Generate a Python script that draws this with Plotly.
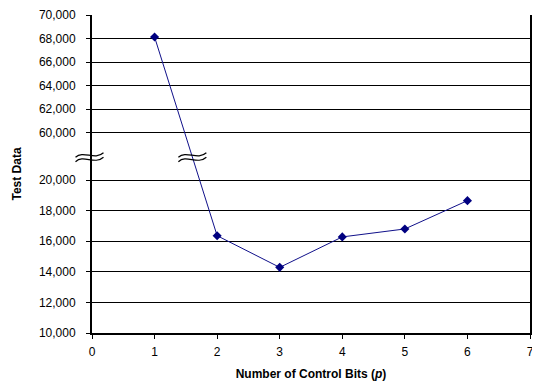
import plotly.graph_objects as go

# ---- data ----
control_bits = [1, 2, 3, 4, 5, 6]
test_data = [68130, 16360, 14290, 16280, 16800, 18650]

x_tick_values = [0, 1, 2, 3, 4, 5, 6, 7]
y_tick_values_lower = [10000, 12000, 14000, 16000, 18000, 20000]
y_tick_values_upper = [60000, 62000, 64000, 66000, 68000, 70000]

# ---- broken y-axis mapping (lower segment 10k-20k, upper segment 60k-70k) ----
LOWER_MIN = 10000
UPPER_MIN = 60000
UPPER_START = 13.092        # display position of the upper segment start
UPPER_SCALE = 0.7692        # display units per 1000 in the upper segment


def to_disp(v):
    if v <= 40000:
        return (v - LOWER_MIN) / 1000.0
    return UPPER_START + (v - UPPER_MIN) / 1000.0 * UPPER_SCALE


all_ticks = y_tick_values_lower + y_tick_values_upper
tick_disp = [to_disp(v) for v in all_ticks]
tick_text = [f"{v:,}" for v in all_ticks]

# page body has an 8px default margin; compensate in the plot margins
OFF = 8
W, H = 540, 383
ML, MR, MT, MB = 91.5 - OFF, 10 + OFF, 15 - OFF, 50 + OFF
PW, PH = W - ML - MR, H - MT - MB


def px(xs, ys):
    # convert on-screen pixel position to paper coords for decorations
    return (xs - OFF - ML) / PW, (H - MB - (ys - OFF)) / PH


def wave_path(cx, cy):
    parts = []
    for dy in (-2.2, 2.2):
        pts = [(cx - 14, cy + dy + 2.5), (cx - 6, cy + dy - 5),
               (cx + 5, cy + dy + 6), (cx + 14, cy + dy - 2)]
        p = [px(a, b) for a, b in pts]
        parts.append("M {:.5f},{:.5f} C {:.5f},{:.5f} {:.5f},{:.5f} {:.5f},{:.5f}".format(
            p[0][0], p[0][1], p[1][0], p[1][1], p[2][0], p[2][1], p[3][0], p[3][1]))
    return " ".join(parts)


fig = go.Figure()
fig.add_trace(go.Scatter(
    x=control_bits,
    y=[to_disp(v) for v in test_data],
    mode="lines+markers",
    line=dict(color="#10108a", width=1),
    marker=dict(symbol="diamond", size=7, color="#000080"),
    cliponaxis=False,
    hoverinfo="skip",
))

font_family = "Liberation Sans, Arial, sans-serif"

fig.update_layout(
    width=W, height=H,
    margin=dict(l=ML, r=MR, t=MT, b=MB),
    paper_bgcolor="white",
    plot_bgcolor="white",
    showlegend=False,
    font=dict(family=font_family, size=12, color="black"),
    xaxis=dict(
        range=[0, 7],
        tickvals=x_tick_values,
        ticks="outside", ticklen=4, tickwidth=1, tickcolor="black",
        showline=True, linewidth=2, linecolor="black",
        showgrid=False, zeroline=False,
        ticklabelstandoff=3,
        title=dict(text="<b>Number of Control Bits (<i>p</i>)</b>",
                   font=dict(size=12), standoff=11),
        automargin=False,
    ),
    yaxis=dict(
        range=[0, to_disp(70000)],
        tickvals=tick_disp, ticktext=tick_text,
        ticks="outside", ticklen=4, tickwidth=1, tickcolor="black",
        showline=True, linewidth=2, linecolor="black", mirror=True,
        showgrid=True, gridcolor="black", gridwidth=1,
        zeroline=False,
        ticklabelstandoff=8,
        title=dict(text="<b>Test Data</b>", font=dict(size=12)),
        automargin=False,
    ),
    shapes=[
        dict(type="path", xref="paper", yref="paper", path=wave_path(89, 157),
             line=dict(color="black", width=1.2)),
        dict(type="path", xref="paper", yref="paper", path=wave_path(192, 157),
             line=dict(color="black", width=1.2)),
    ],
)

fig.write_html("out.html")
